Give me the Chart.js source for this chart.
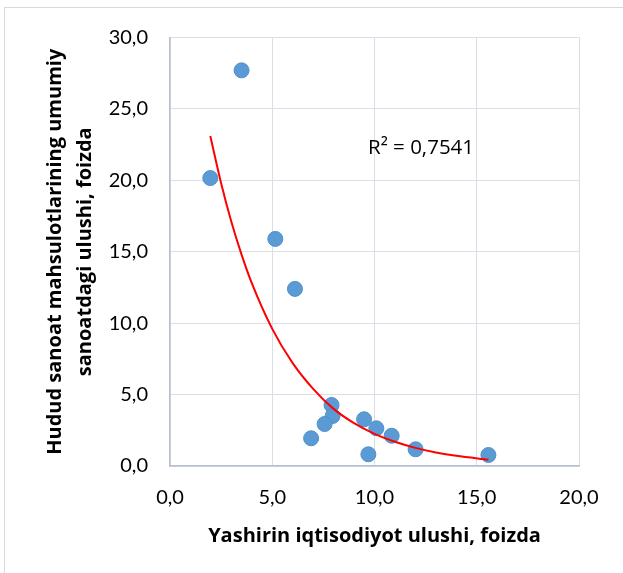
<!DOCTYPE html>
<html>
<head>
<meta charset="utf-8">
<script src="https://cdn.jsdelivr.net/npm/chart.js@4/dist/chart.umd.min.js"></script>
<style>
  html, body { margin: 0; padding: 0; background: #ffffff; }
  #wrap { position: relative; width: 623px; height: 573px; overflow: hidden; }
  #frame { position: absolute; left: 4px; top: 7px; width: 800px; height: 800px; border: 1px solid #d9d9d9; box-sizing: border-box; }
  #c { position: absolute; left: 0; top: 0; }
  #r2 { position: absolute; left: 368px; top: 132px; font-family: "Open Sans", sans-serif; font-size: 20.5px; color: #000; white-space: nowrap; }
</style>
</head>
<body>
<div id="wrap">
  <div id="frame"></div>
  <canvas id="c" width="623" height="573"></canvas>
  <div id="r2">R² = 0,7541</div>
</div>
<script>
// Observed data (shadow economy share %, region's share of industry output %)
const shadowShare = [1.97, 3.5, 5.15, 6.11, 7.9, 7.95, 7.56, 6.9, 9.49, 10.09, 10.84, 9.7, 12.01, 15.57];
const industryShare = [20.16, 27.7, 15.9, 12.4, 4.27, 3.5, 2.94, 1.94, 3.27, 2.64, 2.12, 0.82, 1.17, 0.77];

// Exponential trendline, points
const trendX = [1.97, 2.5, 3.0, 3.5, 4.0, 5.0, 6.0, 7.0, 8.0, 9.0, 10.0, 11.0, 12.0, 13.0, 14.0, 15.57];
const trendY = [23.1, 19.8, 17.1, 14.8, 12.8, 9.6, 7.2, 5.4, 4.0, 3.0, 2.25, 1.7, 1.27, 0.95, 0.71, 0.44];

const xTicks = [0, 5, 10, 15, 20];
const yTicks = [0, 5, 10, 15, 20, 25, 30];
const xTitle = "Yashirin iqtisodiyot ulushi, foizda";
const yTitle = ["Hudud sanoat mahsulotlarining umumiy", "sanoatdagi ulushi, foizda"];
const r2Label = "R² = 0,7541";

document.getElementById('r2').textContent = r2Label;

const points = shadowShare.map((x, i) => ({ x: x, y: industryShare[i] }));
const trend = trendX.map((x, i) => ({ x: x, y: trendY[i] }));
const fmt = v => Number(v).toFixed(1).replace('.', ',');

const FONT = 'Lato, sans-serif';
const TFONT = '"Open Sans", sans-serif';
const GRID = '#d9dee7';
const AXIS = '#b8c0d0';

new Chart(document.getElementById('c'), {
  type: 'scatter',
  data: {
    datasets: [
      {
        label: 'trend',
        data: trend,
        showLine: true,
        borderColor: '#ff0000',
        borderWidth: 2,
        pointRadius: 0,
        fill: false,
        cubicInterpolationMode: 'monotone',
        order: 0
      },
      {
        label: 'data',
        data: points,
        backgroundColor: '#5b9bd5',
        borderColor: '#4f8fcb',
        borderWidth: 1,
        pointRadius: 7.5,
        order: 1
      }
    ]
  },
  options: {
    responsive: false,
    animation: false,
    events: [],
    layout: { padding: { left: 0, top: 37.5, right: 44, bottom: 0 } },
    plugins: { legend: { display: false }, tooltip: { enabled: false }, title: { display: false } },
    scales: {
      x: {
        type: 'linear',
        min: 0, max: 20,
        afterBuildTicks: s => { s.ticks = xTicks.map(v => ({ value: v })); },
        afterFit: s => { s.height = 107; },
        grid: { color: GRID, lineWidth: 1, drawTicks: false },
        border: { color: AXIS, width: 1.5 },
        ticks: { color: '#000', font: { family: FONT, size: 20 }, padding: 20, callback: fmt, maxRotation: 0 },
        title: { display: true, text: xTitle, color: '#000', font: { family: TFONT, size: 20, weight: 'bold' }, padding: { top: 0, bottom: 25 } }
      },
      y: {
        type: 'linear',
        min: 0, max: 30,
        afterBuildTicks: s => { s.ticks = yTicks.map(v => ({ value: v })); },
        afterFit: s => { s.width = 170; },
        grid: { color: GRID, lineWidth: 1, drawTicks: false },
        border: { color: AXIS, width: 1.5 },
        ticks: { color: '#000', font: { family: FONT, size: 20 }, padding: 22, callback: fmt },
        title: { display: true, text: yTitle, color: '#000', font: { family: TFONT, size: 20, weight: 'bold', lineHeight: 1.5 }, padding: { top: 40, bottom: 0 } }
      }
    }
  }
});
</script>
</body>
</html>
